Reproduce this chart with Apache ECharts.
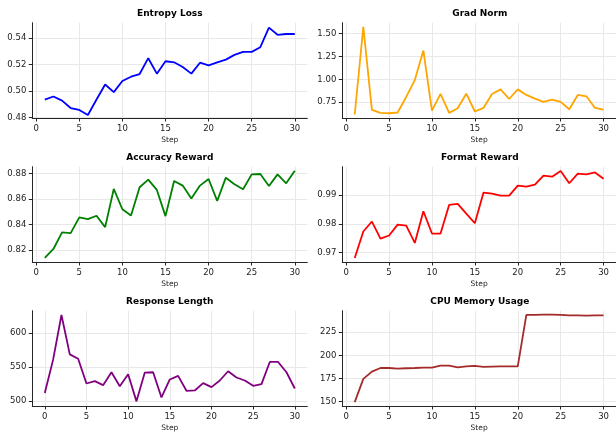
<!DOCTYPE html>
<html>
<head>
<meta charset="utf-8">
<script src="https://cdn.jsdelivr.net/npm/echarts@6/dist/echarts.min.js"></script>
<style>
html,body{margin:0;padding:0;background:#fff;}
#chart{width:616px;height:433px;}
</style>
</head>
<body>
<div id="chart"></div>
<script>
// ---- data ----
const steps = [1,2,3,4,5,6,7,8,9,10,11,12,13,14,15,16,17,18,19,20,21,22,23,24,25,26,27,28,29,30];
const respSteps = [0,1,2,3,4,5,6,7,8,9,10,11,12,13,14,15,16,17,18,19,20,21,22,23,24,25,26,27,28,29,30];

const entropyLoss = [0.4935,0.4958,0.4927,0.4871,0.4856,0.4818,0.4935,0.5049,0.4991,0.5075,
  0.5108,0.5128,0.5248,0.5131,0.5225,0.5217,0.5181,0.5131,0.5214,0.5194,
  0.5217,0.5237,0.5273,0.5296,0.5296,0.5331,0.5479,0.5425,0.5431,0.5431];
const gradNorm = [0.616,1.576,0.667,0.634,0.630,0.638,0.808,0.993,1.315,0.659,
  0.841,0.634,0.685,0.844,0.649,0.688,0.841,0.891,0.786,0.891,
  0.830,0.790,0.754,0.779,0.754,0.674,0.830,0.815,0.688,0.670];
const accuracyReward = [0.8138,0.8208,0.8338,0.8332,0.8455,0.8442,0.8468,0.8379,0.8678,0.8519,
  0.8470,0.8691,0.8751,0.8670,0.8465,0.8740,0.8704,0.8603,0.8704,0.8756,
  0.8584,0.8766,0.8714,0.8675,0.8792,0.8795,0.8701,0.8792,0.8722,0.8821];
const formatReward = [0.9680,0.9773,0.9808,0.9748,0.9759,0.9797,0.9794,0.9733,0.9844,0.9766,
  0.9766,0.9866,0.9870,0.9836,0.9802,0.9909,0.9906,0.9899,0.9899,0.9934,
  0.9930,0.9937,0.9969,0.9965,0.9985,0.9942,0.9976,0.9973,0.9980,0.9958];
const responseLength = [511.7,560.7,626.2,568.4,562.1,525.7,529.1,523.3,542.2,521.8,539.3,
  499.5,541.7,542.2,505.3,531.6,536.9,515.0,515.5,526.2,520.4,
  530.1,543.7,534.5,530.1,522.3,524.8,557.3,557.3,542.2,518.4];
const cpuMemory = [149.6,174.6,182.5,186.4,186.4,185.7,186.1,186.4,186.8,186.8,
  188.9,188.9,187.1,188.2,188.6,187.5,187.9,188.2,188.2,188.2,
  243.6,243.6,243.9,243.9,243.6,243.2,243.2,242.9,243.2,243.2];

const titles = ['Entropy Loss','Grad Norm','Accuracy Reward','Format Reward','Response Length','CPU Memory Usage'];
const xTicks = [0,5,10,15,20,25,30];
const yTicksEntropy = [0.48,0.50,0.52,0.54];
const yTicksGrad = [0.75,1.00,1.25,1.50];
const yTicksAcc = [0.82,0.84,0.86,0.88];
const yTicksFormat = [0.97,0.98,0.99];
const yTicksResp = [500,550,600];
const yTicksCpu = [150,175,200,225];
const xLabel = 'Step';

// ---- layout / style ----
const panels = [
  {x: steps, y: entropyLoss, color:'#0000ff', yt: yTicksEntropy, dec:2, ymin:0.47954, ymax:0.55166, xmin:-0.45, xmax:31.45},
  {x: steps, y: gradNorm, color:'#ffa500', yt: yTicksGrad, dec:2, ymin:0.578, ymax:1.620, xmin:-0.45, xmax:31.45},
  {x: steps, y: accuracyReward, color:'#008000', yt: yTicksAcc, dec:2, ymin:0.8106, ymax:0.8852, xmin:-0.45, xmax:31.45},
  {x: steps, y: formatReward, color:'#ff0000', yt: yTicksFormat, dec:2, ymin:0.96663, ymax:1.0000, xmin:-0.45, xmax:31.45},
  {x: respSteps, y: responseLength, color:'#800080', yt: yTicksResp, dec:0, ymin:492.7, ymax:632.5, xmin:-1.5, xmax:31.5},
  {x: steps, y: cpuMemory, color:'#a52a2a', yt: yTicksCpu, dec:0, ymin:145.4, ymax:248.2, xmin:-0.45, xmax:31.45}
];
const colLeft = [32.3, 342.3];
const rowTop = [22.7, 166.7, 310.7];
const gw = 275, gh = 95.3;
const FONT = 'DejaVu Sans';
const axisColor = '#262626';
const gridColor = '#e8e8e8';

const grid = [], xAxis = [], yAxis = [], series = [], title = [];
panels.forEach((p, i) => {
  const c = i % 2, r = Math.floor(i / 2);
  grid.push({left: colLeft[c], top: rowTop[r], width: gw, height: gh, containLabel: false});
  title.push({
    text: titles[i], left: colLeft[c] + gw / 2, top: rowTop[r] - 14, textAlign: 'center', padding: 0,
    textStyle: {fontFamily: FONT, fontSize: 9, fontWeight: 'bold', color: '#000'}
  });
  xAxis.push({
    type: 'value', gridIndex: i, min: p.xmin, max: p.xmax,
    name: xLabel, nameLocation: 'middle', nameGap: 18,
    nameTextStyle: {fontFamily: FONT, fontSize: 7.5, color: '#222'},
    axisLine: {show: true, onZero: false, lineStyle: {color: axisColor, width: 1}},
    axisTick: {show: true, length: 3.5, customValues: xTicks, lineStyle: {color: axisColor, width: 1}},
    axisLabel: {customValues: xTicks, margin: 6, fontFamily: FONT, fontSize: 8.5, color: '#222'},
    splitLine: {show: true, lineStyle: {color: gridColor, width: 1}}
  });
  yAxis.push({
    type: 'value', gridIndex: i, min: p.ymin, max: p.ymax,
    axisLine: {show: true, onZero: false, lineStyle: {color: axisColor, width: 1}},
    axisTick: {show: true, length: 3.5, customValues: p.yt, lineStyle: {color: axisColor, width: 1}},
    axisLabel: {customValues: p.yt, margin: 6, fontFamily: FONT, fontSize: 8.5, color: '#222',
      formatter: v => v.toFixed(p.dec)},
    splitLine: {show: true, lineStyle: {color: gridColor, width: 1}}
  });
  series.push({
    type: 'line', xAxisIndex: i, yAxisIndex: i,
    data: p.x.map((xv, k) => [xv, p.y[k]]),
    showSymbol: false, symbol: 'none',
    lineStyle: {color: p.color, width: 1.8}, itemStyle: {color: p.color},
    clip: false
  });
});

const chart = echarts.init(document.getElementById('chart'), null, {renderer: 'canvas'});
chart.setOption({animation: false, backgroundColor: '#fff', title, grid, xAxis, yAxis, series});
</script>
</body>
</html>
